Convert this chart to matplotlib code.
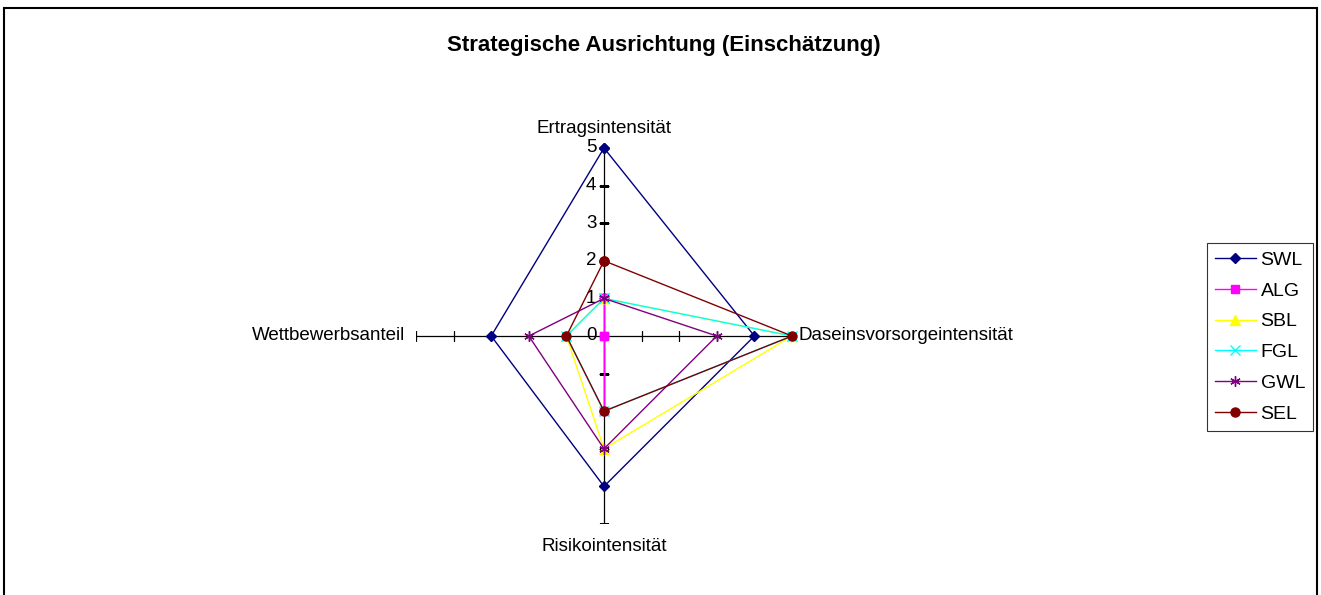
import numpy as np
import matplotlib
matplotlib.use("Agg")
import matplotlib.pyplot as plt
from matplotlib.patches import Rectangle

plt.rcParams['font.family'] = ['Liberation Sans', 'DejaVu Sans']

title = "Strategische Ausrichtung (Einschätzung)"
categories = ["Ertragsintensität", "Daseinsvorsorgeintensität", "Risikointensität", "Wettbewerbsanteil"]
series_names = ["SWL", "ALG", "SBL", "FGL", "GWL", "SEL"]
swl = [5, 4, 4, 3]
alg = [1, 0, 2, 0]
sbl = [1, 5, 3, 1]
fgl = [1, 5, 2, 1]
gwl = [1, 3, 3, 2]
sel = [2, 5, 2, 1]
series_values = [swl, alg, sbl, fgl, gwl, sel]
tick_values = [0, 1, 2, 3, 4, 5]

colors = ["#000080", "#FF00FF", "#FFFF00", "#00FFFF", "#800080", "#800000"]
markers = ["D", "s", "^", "x", (6, 2, 0), "o"]
msizes = [5.5, 5.5, 6.5, 6.5, 7.5, 6.5]

FS = 13.5

fig = plt.figure(figsize=(13.21, 5.95), dpi=100)
fig.patch.set_facecolor("white")
fig.patches.append(Rectangle((4 / 1321, -0.05), (1317 - 4) / 1321, 1.05 - 8 / 595,
                             transform=fig.transFigure, fill=False, edgecolor="black",
                             linewidth=1.5, zorder=10))

cx, cy, R = 604, 336, 188
ax = fig.add_axes([(cx - R) / 1321, 1 - (cy + R) / 595, 2 * R / 1321, 2 * R / 595],
                  projection="polar")
ax.set_theta_offset(np.pi / 2)
ax.set_theta_direction(-1)
ax.set_ylim(0, 5)
ax.grid(False)
ax.spines["polar"].set_visible(False)
ax.set_xticks([])
ax.set_yticks([])
ax.patch.set_alpha(0)

n = len(categories)
angles = np.arange(n) * 2 * np.pi / n

# axes lines with tick marks
for i, a in enumerate(angles):
    ax.plot([a, a], [0, 5], color="black", lw=0.9, zorder=1)
    mk = "_" if i % 2 == 0 else "|"
    ax.plot([a] * 5, tick_values[1:], linestyle="none", marker=mk, color="black",
            markersize=7.5, markeredgewidth=0.9, zorder=1)

# tick labels on top axis
for v in tick_values:
    ax.annotate(str(v), xy=(angles[0], v), xytext=(-5.5, 0), textcoords="offset points",
                ha="right", va="center", fontsize=FS, zorder=2)

# category labels
ax.annotate(categories[0], xy=(angles[0], 5), xytext=(0, 8), textcoords="offset points",
            ha="center", va="bottom", fontsize=FS)
ax.annotate(categories[1], xy=(angles[1], 5), xytext=(5, 0), textcoords="offset points",
            ha="left", va="center", fontsize=FS)
ax.annotate(categories[2], xy=(angles[2], 5), xytext=(0, -10), textcoords="offset points",
            ha="center", va="top", fontsize=FS)
ax.annotate(categories[3], xy=(angles[3], 5), xytext=(-8, 0), textcoords="offset points",
            ha="right", va="center", fontsize=FS)

closed_angles = np.concatenate([angles, angles[:1]])
handles = []
for name, vals, c, m, ms in zip(series_names, series_values, colors, markers, msizes):
    v = list(vals) + [vals[0]]
    h, = ax.plot(closed_angles, v, color=c, lw=1.0, marker=m, markersize=ms,
                 markerfacecolor=c, markeredgecolor=c, label=name, zorder=3,
                 clip_on=False)
    handles.append(h)

fig.text(664 / 1321, 1 - 46 / 595, title, ha="center", va="center",
         fontsize=16, fontweight="bold")

leg = fig.legend(handles=handles, loc="center", bbox_to_anchor=(1260 / 1321, 1 - 337 / 595),
                 frameon=True, fancybox=False, edgecolor="black", fontsize=14,
                 handlelength=2.1, handletextpad=0.25, labelspacing=0.68,
                 borderpad=0.4, borderaxespad=0)
leg.get_frame().set_linewidth(0.8)

fig.savefig("out.png", dpi=100, facecolor="white")
